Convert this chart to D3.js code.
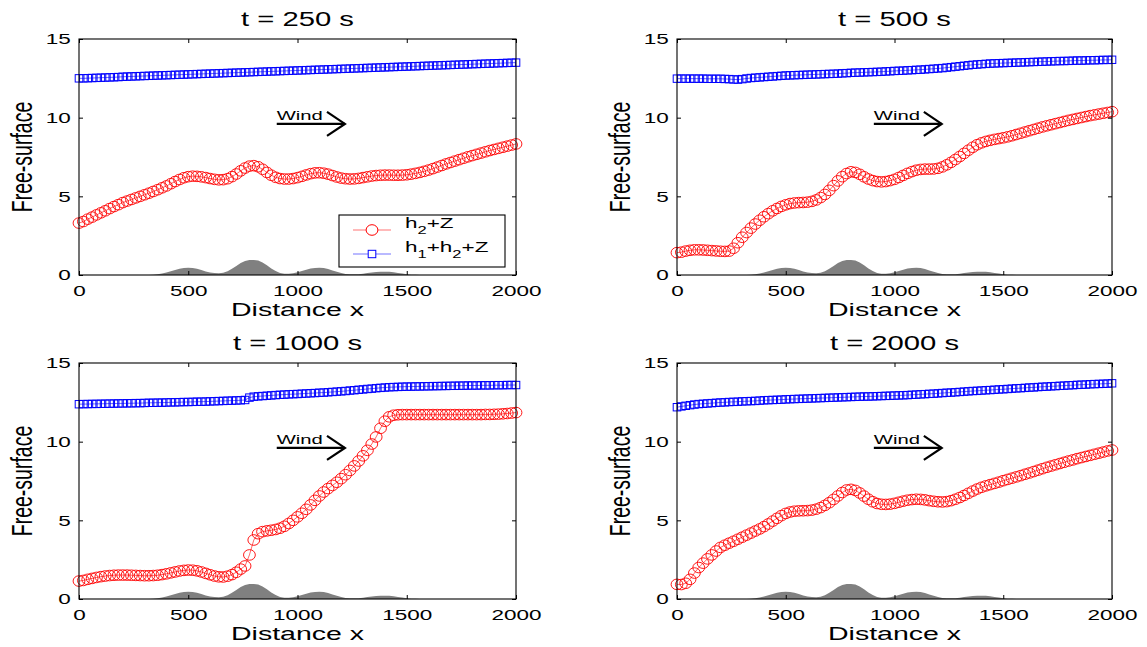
<!DOCTYPE html>
<html>
<head>
<meta charset="utf-8">
<script src="https://cdn.jsdelivr.net/npm/d3@7"></script>
<style>
body { margin: 0; background: #fff; }
text { font-family: "Liberation Sans", Arial, Helvetica, sans-serif; fill: #000; }
</style>
</head>
<body>
<svg id="fig" width="1147" height="647"></svg>
<script>
// grid of the model (distance x)
var xs = [0,20,40,60,80,100,120,140,160,180,
    200,220,240,260,280,300,320,340,360,380,
    400,420,440,460,480,500,520,540,560,580,
    600,620,640,660,680,700,720,740,760,780,
    800,820,840,860,880,900,920,940,960,980,
    1000,1020,1040,1060,1080,1100,1120,1140,1160,1180,
    1200,1220,1240,1260,1280,1300,1320,1340,1360,1380,
    1400,1420,1440,1460,1480,1500,1520,1540,1560,1580,
    1600,1620,1640,1660,1680,1700,1720,1740,1760,1780,
    1800,1820,1840,1860,1880,1900,1920,1940,1960,1980,
    2000];

// bottom topography Z
var bottom = [0,0,0,0,0,0,0,0,0,0,
    0,0,0,0,0,0,0,0.01,0.04,0.09,
    0.16,0.24,0.32,0.39,0.44,0.46,0.44,0.39,0.31,0.23,
    0.16,0.12,0.11,0.14,0.24,0.40,0.58,0.76,0.89,0.95,
    0.96,0.92,0.80,0.62,0.42,0.25,0.13,0.08,0.08,0.11,
    0.17,0.25,0.34,0.41,0.45,0.46,0.44,0.38,0.29,0.20,
    0.12,0.07,0.04,0.04,0.05,0.08,0.12,0.16,0.19,0.21,
    0.21,0.20,0.17,0.13,0.09,0.05,0.02,0.01,0,0,
    0,0,0,0,0,0,0,0,0,0,
    0,0,0,0,0,0,0,0,0,0,
    0];

// h2+Z at t = 250 s
var red250 = [3.30,3.40,3.55,3.68,3.82,3.95,4.08,4.22,4.35,4.47,
    4.60,4.70,4.80,4.90,5.00,5.10,5.20,5.31,5.42,5.54,
    5.66,5.80,5.94,6.07,6.18,6.25,6.28,6.27,6.24,6.19,
    6.13,6.08,6.05,6.06,6.12,6.25,6.42,6.62,6.80,6.92,
    6.95,6.88,6.72,6.52,6.34,6.21,6.13,6.10,6.10,6.13,
    6.19,6.27,6.36,6.44,6.49,6.50,6.47,6.41,6.32,6.23,
    6.16,6.12,6.10,6.11,6.14,6.19,6.24,6.29,6.32,6.34,
    6.35,6.35,6.34,6.34,6.35,6.37,6.41,6.46,6.52,6.59,
    6.67,6.76,6.86,6.96,7.06,7.15,7.24,7.33,7.42,7.51,
    7.59,7.67,7.75,7.83,7.91,7.98,8.05,8.12,8.19,8.26,
    8.33];

// h1+h2+Z at t = 250 s
var blue250 = [12.50,12.50,12.51,12.52,12.53,12.54,12.55,12.56,12.57,12.58,
    12.60,12.61,12.62,12.63,12.64,12.65,12.66,12.67,12.68,12.69,
    12.70,12.71,12.72,12.73,12.74,12.75,12.76,12.77,12.78,12.79,
    12.80,12.81,12.82,12.83,12.84,12.85,12.86,12.87,12.88,12.89,
    12.90,12.91,12.92,12.93,12.94,12.95,12.96,12.97,12.98,12.99,
    13.00,13.01,13.02,13.03,13.04,13.05,13.06,13.07,13.08,13.09,
    13.10,13.11,13.12,13.13,13.14,13.15,13.16,13.17,13.18,13.19,
    13.20,13.21,13.22,13.23,13.24,13.25,13.26,13.27,13.28,13.29,
    13.30,13.31,13.32,13.33,13.34,13.35,13.36,13.37,13.38,13.39,
    13.40,13.41,13.42,13.43,13.44,13.45,13.46,13.47,13.48,13.49,
    13.50];

var red500 = [1.42,1.45,1.52,1.57,1.60,1.60,1.59,1.57,1.55,1.53,
    1.51,1.50,1.52,1.70,2.05,2.40,2.70,2.98,3.24,3.48,
    3.70,3.90,4.08,4.23,4.36,4.46,4.54,4.58,4.60,4.61,
    4.63,4.68,4.77,4.92,5.12,5.38,5.68,5.98,6.25,6.45,
    6.56,6.52,6.40,6.24,6.10,6.00,5.94,5.92,5.94,6.00,
    6.08,6.20,6.33,6.46,6.57,6.66,6.71,6.73,6.73,6.74,
    6.78,6.87,7.00,7.16,7.34,7.53,7.73,7.93,8.12,8.28,
    8.40,8.49,8.56,8.62,8.67,8.72,8.78,8.85,8.93,9.01,
    9.09,9.17,9.25,9.33,9.41,9.48,9.55,9.62,9.69,9.76,
    9.83,9.89,9.95,10.01,10.07,10.13,10.18,10.23,10.28,10.33,
    10.38];

var blue500 = [12.48,12.48,12.48,12.48,12.48,12.48,12.48,12.47,12.47,12.47,
    12.47,12.46,12.45,12.43,12.42,12.45,12.49,12.52,12.54,12.56,
    12.58,12.60,12.62,12.64,12.66,12.68,12.69,12.70,12.71,12.72,
    12.73,12.74,12.75,12.76,12.77,12.78,12.79,12.80,12.82,12.83,
    12.85,12.86,12.87,12.88,12.89,12.90,12.91,12.92,12.94,12.95,
    12.97,12.98,12.99,13.01,13.02,13.04,13.05,13.07,13.09,13.11,
    13.13,13.15,13.18,13.21,13.24,13.27,13.30,13.33,13.36,13.38,
    13.40,13.42,13.44,13.45,13.46,13.47,13.48,13.49,13.50,13.51,
    13.52,13.53,13.54,13.55,13.56,13.57,13.58,13.59,13.60,13.60,
    13.61,13.62,13.63,13.63,13.64,13.65,13.65,13.66,13.67,13.67,
    13.68];

var red1000 = [1.14,1.18,1.25,1.31,1.37,1.42,1.46,1.49,1.51,1.52,
    1.52,1.52,1.51,1.50,1.49,1.48,1.48,1.49,1.51,1.55,
    1.60,1.66,1.72,1.78,1.82,1.84,1.83,1.79,1.72,1.63,
    1.54,1.46,1.41,1.40,1.45,1.55,1.70,1.90,2.10,2.80,
    3.75,4.15,4.28,4.33,4.37,4.42,4.50,4.62,4.80,5.00,
    5.22,5.45,5.70,5.98,6.27,6.55,6.80,7.02,7.22,7.42,
    7.65,7.90,8.17,8.46,8.77,9.10,9.45,9.85,10.30,10.85,
    11.30,11.58,11.68,11.71,11.72,11.72,11.72,11.72,11.72,11.72,
    11.72,11.72,11.72,11.72,11.72,11.72,11.72,11.72,11.72,11.72,
    11.72,11.72,11.72,11.73,11.73,11.74,11.75,11.77,11.79,11.82,
    11.85];

var blue1000 = [12.38,12.39,12.39,12.40,12.40,12.41,12.41,12.42,12.42,12.43,
    12.43,12.44,12.44,12.45,12.45,12.46,12.47,12.47,12.48,12.48,
    12.49,12.50,12.50,12.51,12.52,12.52,12.53,12.54,12.54,12.55,
    12.56,12.57,12.58,12.59,12.60,12.61,12.62,12.63,12.65,12.80,
    12.86,12.88,12.90,12.92,12.94,12.96,12.98,12.99,13.01,13.02,
    13.03,13.05,13.06,13.08,13.09,13.11,13.12,13.14,13.16,13.18,
    13.20,13.22,13.25,13.27,13.30,13.32,13.35,13.37,13.40,13.42,
    13.44,13.46,13.47,13.48,13.49,13.50,13.50,13.51,13.51,13.52,
    13.52,13.53,13.53,13.54,13.54,13.55,13.55,13.56,13.56,13.57,
    13.57,13.57,13.58,13.58,13.58,13.59,13.59,13.59,13.60,13.60,
    13.60];

var red2000 = [0.93,0.92,1.00,1.25,1.65,2.00,2.28,2.55,2.80,3.05,
    3.28,3.42,3.55,3.67,3.80,3.93,4.06,4.19,4.32,4.45,
    4.60,4.77,4.95,5.13,5.30,5.44,5.53,5.58,5.60,5.61,
    5.62,5.65,5.71,5.81,5.95,6.12,6.33,6.55,6.77,6.93,
    6.97,6.90,6.74,6.54,6.34,6.18,6.07,6.02,6.01,6.03,
    6.08,6.15,6.22,6.28,6.32,6.34,6.33,6.30,6.25,6.21,
    6.18,6.17,6.19,6.25,6.34,6.45,6.58,6.72,6.86,6.99,
    7.10,7.19,7.27,7.35,7.43,7.52,7.60,7.68,7.76,7.84,
    7.93,8.01,8.10,8.19,8.28,8.37,8.45,8.53,8.61,8.69,
    8.77,8.84,8.92,8.99,9.06,9.13,9.20,9.27,9.34,9.41,
    9.47];

var blue2000 = [12.19,12.24,12.28,12.32,12.36,12.39,12.41,12.43,12.45,12.47,
    12.49,12.50,12.52,12.53,12.54,12.56,12.57,12.58,12.59,12.61,
    12.63,12.64,12.65,12.66,12.67,12.69,12.70,12.71,12.72,12.73,
    12.74,12.75,12.76,12.77,12.78,12.79,12.80,12.81,12.82,12.83,
    12.84,12.85,12.86,12.87,12.87,12.88,12.89,12.90,12.91,12.92,
    12.93,12.94,12.95,12.96,12.98,12.99,13.01,13.02,13.04,13.05,
    13.07,13.09,13.11,13.12,13.14,13.16,13.18,13.20,13.22,13.23,
    13.25,13.27,13.28,13.30,13.32,13.33,13.35,13.37,13.39,13.40,
    13.42,13.44,13.45,13.47,13.49,13.50,13.52,13.53,13.55,13.56,
    13.58,13.59,13.61,13.62,13.63,13.65,13.66,13.67,13.68,13.69,
    13.71];

var titles = ["t = 250 s", "t = 500 s", "t = 1000 s", "t = 2000 s"];
var xTicks = [0, 500, 1000, 1500, 2000];
var yTicks = [0, 5, 10, 15];

// the exported figure is stretched sideways, so the text is too
var SX = 1.5;

var svg = d3.select("#fig");

var panels = [
    { title: titles[0], red: red250,  blue: blue250,  left: 79,  top: 39,  w: 437, h: 236, legend: true },
    { title: titles[1], red: red500,  blue: blue500,  left: 677, top: 39,  w: 435, h: 236 },
    { title: titles[2], red: red1000, blue: blue1000, left: 79,  top: 363, w: 437, h: 236 },
    { title: titles[3], red: red2000, blue: blue2000, left: 677, top: 363, w: 435, h: 236 }
];

var idx = d3.range(xs.length);

panels.forEach(function(p) {
    var g = svg.append("g")
        .attr("transform", "translate(" + p.left + "," + p.top + ")");

    var x = d3.scaleLinear().domain([0, 2000]).range([0, p.w]);
    var y = d3.scaleLinear().domain([0, 15]).range([p.h, 0]);

    // bottom bumps
    var area = d3.area()
        .x(function(i) { return x(xs[i]); })
        .y0(y(0))
        .y1(function(i) { return y(bottom[i]); });
    g.append("path")
        .datum(idx)
        .attr("d", area)
        .attr("fill", "#808080");

    // h2+Z line + circles
    var lineRed = d3.line()
        .x(function(i) { return x(xs[i]); })
        .y(function(i) { return y(p.red[i]); });
    g.append("path")
        .datum(idx)
        .attr("d", lineRed)
        .attr("fill", "none")
        .attr("stroke", "#ff0000")
        .attr("stroke-width", 0.6);
    g.selectAll("ellipse.red")
        .data(idx)
        .enter()
        .append("ellipse")
        .attr("class", "red")
        .attr("cx", function(i) { return x(xs[i]); })
        .attr("cy", function(i) { return y(p.red[i]); })
        .attr("rx", 5.9)
        .attr("ry", 5.3)
        .attr("fill", "none")
        .attr("stroke", "#ff0000")
        .attr("stroke-width", 0.9);

    // h1+h2+Z line + squares
    var lineBlue = d3.line()
        .x(function(i) { return x(xs[i]); })
        .y(function(i) { return y(p.blue[i]); });
    g.append("path")
        .datum(idx)
        .attr("d", lineBlue)
        .attr("fill", "none")
        .attr("stroke", "#0000ff")
        .attr("stroke-width", 0.6);
    g.selectAll("rect.blue")
        .data(idx)
        .enter()
        .append("rect")
        .attr("class", "blue")
        .attr("x", function(i) { return x(xs[i]) - 3.8; })
        .attr("y", function(i) { return y(p.blue[i]) - 3.7; })
        .attr("width", 7.6)
        .attr("height", 7.4)
        .attr("fill", "none")
        .attr("stroke", "#0000ff")
        .attr("stroke-width", 1);

    // Axes (ticks point inwards, like matlab)
    var xAxis = g.append("g")
        .attr("transform", "translate(0," + p.h + ")")
        .call(d3.axisBottom(x).tickValues(xTicks).tickFormat(d3.format("d"))
            .tickSizeInner(-4).tickSizeOuter(0).tickPadding(10));
    var yAxis = g.append("g")
        .call(d3.axisLeft(y).tickValues(yTicks).tickFormat(d3.format("d"))
            .tickSizeInner(-4).tickSizeOuter(0).tickPadding(5.5));
    g.append("g")
        .call(d3.axisTop(x).tickValues(xTicks).tickSizeInner(-4).tickSizeOuter(0).tickFormat(function() { return ""; }));
    g.append("g")
        .attr("transform", "translate(" + p.w + ",0)")
        .call(d3.axisRight(y).tickValues(yTicks).tickSizeInner(-4).tickSizeOuter(0).tickFormat(function() { return ""; }));

    g.selectAll(".domain").remove();
    g.selectAll(".tick line").attr("stroke", "#000");
    [xAxis, yAxis].forEach(function(a) {
        a.attr("font-family", null).attr("font-size", null);
        a.selectAll("text")
            .style("font-size", "15px")
            .attr("transform", "scale(" + SX + ",1)");
    });

    g.append("rect")
        .attr("width", p.w)
        .attr("height", p.h)
        .attr("fill", "none")
        .attr("stroke", "#000")
        .attr("stroke-width", 1.1);

    // Title and axis labels
    g.append("text")
        .attr("transform", "translate(" + (p.w / 2) + ",-13) scale(" + SX + ",1)")
        .attr("text-anchor", "middle")
        .style("font-size", "19.5px")
        .text(p.title);

    g.append("text")
        .attr("transform", "translate(" + (p.w / 2) + "," + (p.h + 41) + ") scale(" + SX + ",1)")
        .attr("text-anchor", "middle")
        .style("font-size", "19px")
        .text("Distance x");

    g.append("text")
        .attr("transform", "translate(-47," + (p.h / 2) + ") scale(" + SX + ",1) rotate(-90)")
        .attr("text-anchor", "middle")
        .style("font-size", "19.5px")
        .text("Free-surface");

    // Wind arrow
    var wy = y(9.6);
    g.append("text")
        .attr("transform", "translate(" + x(905) + "," + (wy - 4) + ") scale(" + SX + ",1)")
        .style("font-size", "13.5px")
        .text("Wind");
    g.append("line")
        .attr("x1", x(905)).attr("x2", x(1217))
        .attr("y1", wy).attr("y2", wy)
        .attr("stroke", "#000").attr("stroke-width", 2.2);
    g.append("path")
        .attr("d", "M" + x(1135) + "," + (wy - 12) + "L" + x(1217) + "," + wy + "L" + x(1135) + "," + (wy + 12))
        .attr("fill", "none").attr("stroke", "#000").attr("stroke-width", 2.2);

    if (p.legend) {
        var lg = g.append("g").attr("transform", "translate(260,176)");
        lg.append("rect")
            .attr("width", 166).attr("height", 52)
            .attr("fill", "#fff").attr("stroke", "#000").attr("stroke-width", 1.1);

        lg.append("line").attr("x1", 14).attr("x2", 52).attr("y1", 15).attr("y2", 15)
            .attr("stroke", "#ff0000").attr("stroke-opacity", 0.55);
        lg.append("ellipse").attr("cx", 33).attr("cy", 15).attr("rx", 5.9).attr("ry", 5.3)
            .attr("fill", "#fff").attr("stroke", "#ff0000");
        lg.append("line").attr("x1", 14).attr("x2", 52).attr("y1", 39).attr("y2", 39)
            .attr("stroke", "#0000ff").attr("stroke-opacity", 0.55);
        lg.append("rect").attr("x", 29.2).attr("y", 35.3).attr("width", 7.6).attr("height", 7.4)
            .attr("fill", "#fff").attr("stroke", "#0000ff");

        var t1 = lg.append("text")
            .attr("transform", "translate(66,13) scale(" + SX + ",1)")
            .style("font-size", "15px");
        t1.append("tspan").text("h");
        t1.append("tspan").attr("dy", 6).style("font-size", "11px").text("2");
        t1.append("tspan").attr("dy", -6).text("+Z");

        var t2 = lg.append("text")
            .attr("transform", "translate(66,37) scale(" + SX + ",1)")
            .style("font-size", "15px");
        t2.append("tspan").text("h");
        t2.append("tspan").attr("dy", 6).style("font-size", "11px").text("1");
        t2.append("tspan").attr("dy", -6).text("+h");
        t2.append("tspan").attr("dy", 6).style("font-size", "11px").text("2");
        t2.append("tspan").attr("dy", -6).text("+Z");
    }
});
</script>
</body>
</html>
